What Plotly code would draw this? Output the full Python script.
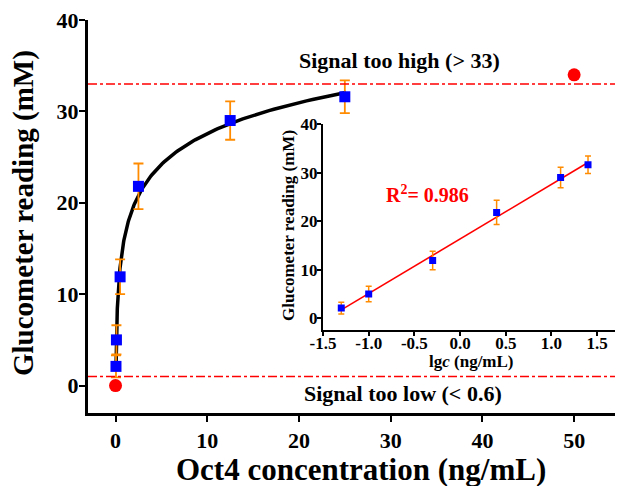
import numpy as np
import plotly.graph_objects as go

# ---- data ----
conc = [0.05, 0.1, 0.5, 2.5, 12.5, 25]          # Oct4 concentration (ng/mL)
lgc = [-1.3, -1.0, -0.3, 0.4, 1.1, 1.4]          # log10 of concentration
reading = [2.1, 5.0, 11.9, 21.8, 29.0, 31.6]     # glucometer reading (mM)
err = [1.2, 1.6, 1.9, 2.5, 2.1, 1.8]             # error bars
out_x = [0, 50]                                  # out-of-range points
out_y = [0.0, 34.0]
high_limit = 33
low_limit = 1.0
main_xticks = [0, 10, 20, 30, 40, 50]
main_yticks = [0, 10, 20, 30, 40]
inset_xticks = [-1.5, -1.0, -0.5, 0.0, 0.5, 1.0, 1.5]
inset_xticklabels = ["-1.5", "-1.0", "-0.5", "0.0", "0.5", "1.0", "1.5"]
inset_yticks = [0, 10, 20, 30, 40]

# linear fit on log scale
slope, intercept = np.polyfit(lgc, reading, 1)
fit_lg = np.linspace(min(lgc), max(lgc), 200)
fit_y = slope * fit_lg + intercept
fit_c = 10 ** fit_lg

FONT = "Liberation Serif"
BLUE = "#0000FF"
ORANGE = "#FF8C00"
RED = "#FF0000"

fig = go.Figure()

# main fitted curve
fig.add_trace(go.Scatter(x=fit_c, y=fit_y, mode="lines",
                         line=dict(color="black", width=3.5),
                         xaxis="x", yaxis="y", showlegend=False))
# main data
fig.add_trace(go.Scatter(x=conc, y=reading, mode="markers",
                         marker=dict(symbol="square", size=11, color=BLUE),
                         error_y=dict(type="data", array=err, color=ORANGE,
                                      thickness=1.8, width=5),
                         xaxis="x", yaxis="y", showlegend=False))
# out-of-range points
fig.add_trace(go.Scatter(x=out_x, y=out_y, mode="markers",
                         marker=dict(symbol="circle", size=13, color=RED),
                         xaxis="x", yaxis="y", showlegend=False))

# inset fit line
fig.add_trace(go.Scatter(x=fit_lg, y=fit_y, mode="lines",
                         line=dict(color=RED, width=1.6),
                         xaxis="x2", yaxis="y2", showlegend=False))
# inset data
fig.add_trace(go.Scatter(x=lgc, y=reading, mode="markers",
                         marker=dict(symbol="square", size=7, color=BLUE),
                         error_y=dict(type="data", array=err, color=ORANGE,
                                      thickness=1.5, width=3),
                         xaxis="x2", yaxis="y2", showlegend=False))

# limit lines
for v in (high_limit, low_limit):
    fig.add_shape(type="line", xref="x domain", yref="y", x0=0, x1=1, y0=v, y1=v,
                  line=dict(color=RED, width=1.5, dash="dashdot"))

# page body has an 8px margin: figure origin sits at page (8, 8)
OFF = 8
W, H = 623 - OFF, 486 - OFF
L, R, T, B = 88 - OFF, 3, 20 - OFF, 73
pw, ph = W - L - R, H - T - B


def px(xp):
    return (xp - OFF - L) / pw


def py(yp):
    return (H - B - (yp - OFF)) / ph


def bold(labels):
    return ["<b>%s</b>" % s for s in labels]


tickfont_main = dict(family=FONT, size=22, color="black")
tickfont_inset = dict(family=FONT, size=17, color="black")

fig.update_layout(
    width=W, height=H,
    margin=dict(l=L, r=R, t=T, b=B, autoexpand=False),
    paper_bgcolor="white", plot_bgcolor="rgba(0,0,0,0)",
    font=dict(family=FONT, color="black"),
    xaxis=dict(range=[-3, 55], tickvals=main_xticks,
               ticktext=bold([str(v) for v in main_xticks]),
               showgrid=False, zeroline=False, automargin=False,
               ticklabeloverflow="allow",
               showline=True, linecolor="black", linewidth=3,
               ticks="outside", ticklen=6, tickwidth=2, tickcolor="black",
               tickfont=tickfont_main, anchor="y"),
    yaxis=dict(range=[-3, 40], tickvals=main_yticks,
               ticktext=bold([str(v) for v in main_yticks]),
               showgrid=False, zeroline=False, automargin=False,
               ticklabeloverflow="allow", ticklabelstandoff=-4,
               showline=True, linecolor="black", linewidth=3,
               ticks="outside", ticklen=6, tickwidth=2, tickcolor="black",
               tickfont=tickfont_main, anchor="x"),
    xaxis2=dict(domain=[px(323), 1.0], range=[-1.5, 1.75], tickvals=inset_xticks,
                ticktext=bold(inset_xticklabels), showgrid=False, zeroline=False,
                automargin=False, ticklabelstandoff=-7, ticklabeloverflow="allow",
                showline=True, linecolor="black", linewidth=2,
                ticks="outside", ticklen=4, tickwidth=1.5, tickcolor="black",
                tickfont=tickfont_inset, anchor="y2"),
    yaxis2=dict(domain=[py(329.5), py(124)], range=[-2.3, 40], tickvals=inset_yticks,
                ticktext=bold([str(v) for v in inset_yticks]),
                showgrid=False, zeroline=False, automargin=False,
                ticklabelstandoff=-4, ticklabeloverflow="allow",
                showline=True, linecolor="black", linewidth=2,
                ticks="outside", ticklen=4, tickwidth=1.5, tickcolor="black",
                tickfont=tickfont_inset, anchor="x2"),
)

ann = [
    dict(text="<b>Glucometer reading (mM)</b>", x=px(23), y=py(213), textangle=-90,
         font=dict(family=FONT, size=29, color="black")),
    dict(text="<b>Oct4 concentration (ng/mL)</b>", x=px(361), y=py(469),
         font=dict(family=FONT, size=31, color="black")),
    dict(text="<b>Glucometer reading (mM)</b>", x=px(288), y=py(226), textangle=-90,
         font=dict(family=FONT, size=17, color="black")),
    dict(text="<b>lg<i>c</i> (ng/mL)</b>", x=px(471), y=py(361),
         font=dict(family=FONT, size=17, color="black")),
    dict(text="<b>R<sup>2</sup>= 0.986</b>", x=px(427), y=py(194),
         font=dict(family=FONT, size=20, color=RED)),
    dict(text="<b>Signal too high (> 33)</b>", x=px(399), y=py(60),
         font=dict(family=FONT, size=22, color="black")),
    dict(text="<b>Signal too low (< 0.6)</b>", x=px(403), y=py(393),
         font=dict(family=FONT, size=22, color="black")),
]
for a in ann:
    fig.add_annotation(xref="paper", yref="paper", showarrow=False,
                       xanchor="center", yanchor="middle", **a)

fig.write_html("out.html")
